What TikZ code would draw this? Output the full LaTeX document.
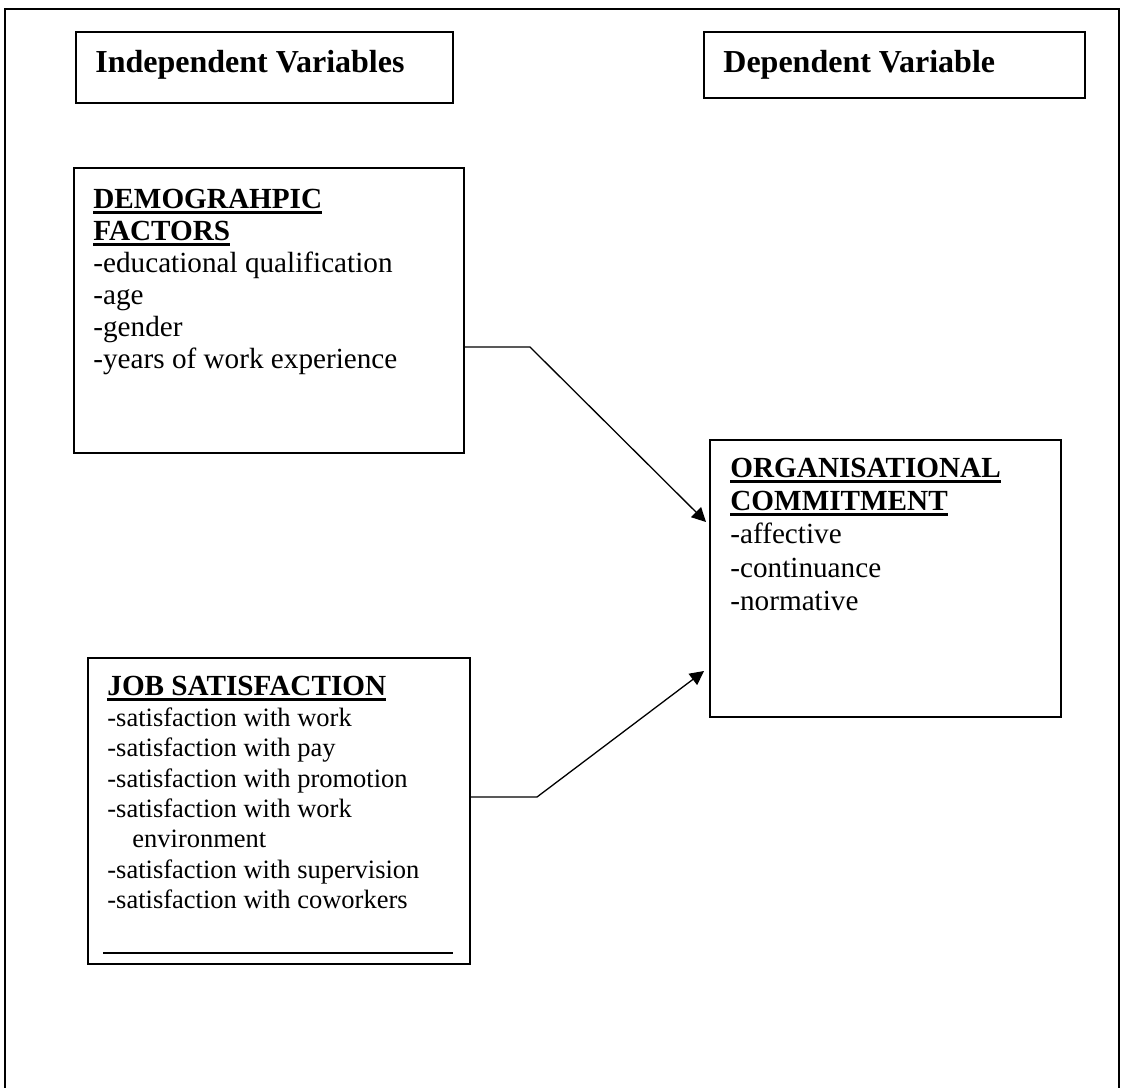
\documentclass[tikz,border=0pt]{standalone}
\usepackage{fontspec}
\setmainfont{Liberation Serif}
\usetikzlibrary{arrows.meta}
\newcommand\myul[1]{\setbox0\hbox{#1}\rlap{\rule[-3pt]{\wd0}{1.3pt}}\box0}
\begin{document}
\begin{tikzpicture}[x=0.5pt,y=-0.5pt,
  box/.style={draw, line width=1pt, inner sep=0pt, anchor=north west},
  hdr/.style={anchor=base west, inner sep=0pt, font=\fontsize{16}{19}\selectfont\bfseries},
  ttl/.style={anchor=base west, inner sep=0pt, font=\fontsize{14.6}{17}\selectfont\bfseries},
  txt/.style={anchor=base west, inner sep=0pt, font=\fontsize{14.6}{17}\selectfont},
  stxt/.style={anchor=base west, inner sep=0pt, font=\fontsize{13.25}{15}\selectfont},
  arr/.style={line width=0.65pt, -{Triangle[length=7pt,width=7pt]}}
]
\useasboundingbox (0,0) rectangle (1121,1088);
% outer frame (bottom edge lies below the picture)
\draw[line width=1pt] (5,1092) -- (5,9) -- (1119,9) -- (1119,1092);

% header boxes
\node[box, minimum width=188.5pt, minimum height=35.5pt] (iv) at (75,31) {};
\node[hdr] (ivt) at (95,72) {Independent Variables};
\node[box, minimum width=190.5pt, minimum height=33pt] (dv) at (703,31) {};
\node[hdr] (dvt) at (723,72) {Dependent Variable};

% demographic factors
\node[box, minimum width=195pt, minimum height=142.5pt] (demo) at (73,167) {};
\node[ttl] (d1) at (93,208) {\myul{DEMOGRAHPIC}};
\node[ttl] (d2) at (93,240) {\myul{FACTORS}};
\node[txt] (d3) at (93,272) {-educational qualification};
\node[txt] (d4) at (93,304) {-age};
\node[txt] (d5) at (93,336) {-gender};
\node[txt] (d6) at (93,368) {-years of work experience};

% job satisfaction
\node[box, minimum width=191pt, minimum height=153pt] (js) at (87,657) {};
\node[ttl] (j0) at (107,695) {\myul{JOB SATISFACTION}};
\node[stxt] (j1) at (107,726) {-satisfaction with work};
\node[stxt] (j2) at (107,756) {-satisfaction with pay};
\node[stxt] (j3) at (107,787) {-satisfaction with promotion};
\node[stxt] (j4) at (107,817) {-satisfaction with work};
\node[stxt] (j5) at (132,847) {environment};
\node[stxt] (j6) at (107,878) {-satisfaction with supervision};
\node[stxt] (j7) at (107,908) {-satisfaction with coworkers};
\draw[line width=1pt] (103,953) -- (453,953);

% organisational commitment
\node[box, minimum width=175.5pt, minimum height=138.5pt] (org) at (709,439) {};
\node[ttl] (o1) at (730,477) {\myul{ORGANISATIONAL}};
\node[ttl] (o2) at (730,510) {\myul{COMMITMENT}};
\node[txt] (o3) at (730,543) {-affective};
\node[txt] (o4) at (730,577) {-continuance};
\node[txt] (o5) at (730,610) {-normative};

% connectors
\coordinate (b1) at (530,347);
\coordinate (t1) at (706,522);
\draw[arr] (demo.east |- b1) -- (b1) -- (t1);
\coordinate (b2) at (537,797);
\coordinate (t2) at (704,671);
\draw[arr] (js.east |- b2) -- (b2) -- (t2);
\end{tikzpicture}
\end{document}
